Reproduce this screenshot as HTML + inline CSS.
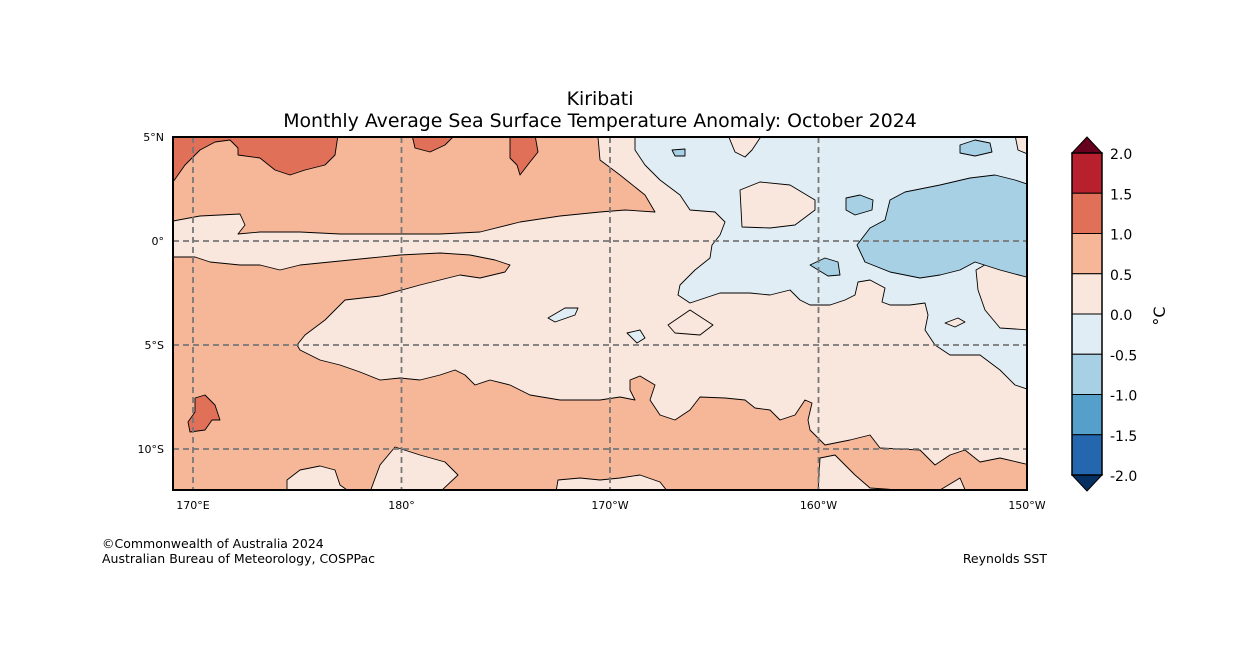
<!DOCTYPE html>
<html><head><meta charset="utf-8">
<style>
body{margin:0;background:#fff;font-family:"DejaVu Sans","Liberation Sans",sans-serif;}
svg text{font-family:"DejaVu Sans","Liberation Sans",sans-serif;}
</style></head>
<body>
<svg id="chart" width="1258" height="667" viewBox="0 0 1258 667" xmlns="http://www.w3.org/2000/svg">
<text x="600" y="105" text-anchor="middle" font-size="18.9">Kiribati</text>
<text x="600" y="127" text-anchor="middle" font-size="18.9">Monthly Average Sea Surface Temperature Anomaly: October 2024</text>
<defs><clipPath id="mapclip"><rect x="173" y="137" width="854" height="353"/></clipPath></defs>
<g id="map" clip-path="url(#mapclip)"></g>
<g id="grid"></g>
<rect x="173" y="137" width="854" height="353" fill="none" stroke="#000" stroke-width="2"/>
<g id="axes"></g>
<g id="cbar"></g>
<text transform="translate(1165,316) rotate(-90)" text-anchor="middle" font-size="16">°C</text>
<text x="102" y="548" font-size="12.5">©Commonwealth of Australia 2024</text>
<text x="102" y="563" font-size="12.5">Australian Bureau of Meteorology, COSPPac</text>
<text x="1047" y="563" text-anchor="end" font-size="12.5">Reynolds SST</text>
</svg>
<script>
const cbLevels=[2.0,1.5,1.0,0.5,0.0,-0.5,-1.0,-1.5,-2.0];
const cbColors=["#b8202e","#e07058","#f6b799","#f9e6dc","#e1edf4","#a7d0e4","#559fcb","#2467ae"];
const lonTicks=[170,180,190,200,210];
const lonLabels=["170°E","180°","170°W","160°W","150°W"];
const latTicks=[5,0,-5,-10];
const latLabels=["5°N","0°","5°S","10°S"];
const NS="http://www.w3.org/2000/svg";
const lonX=l=>193+(l-170)*20.85;
const latY=l=>241-l*20.8;
function mk(t,a,p){const e=document.createElementNS(NS,t);for(const k in a)e.setAttribute(k,a[k]);p.appendChild(e);return e;}
const regions=[
 ["pale-region","#f9e6dc","173,221 200,216 240,214 245,225 238,234 260,232 300,232 340,234 400,234 440,234 480,232 520,222 560,216 600,212 625,210 655,212 645,195 620,175 600,160 598,137 1030,137 1030,465 1000,458 980,462 965,450 950,455 935,465 920,450 880,448 870,435 850,440 825,445 810,430 808,420 812,403 805,400 795,415 780,420 770,410 755,408 745,400 725,398 700,397 690,410 675,420 660,415 650,400 655,385 640,376 630,380 630,390 635,400 620,397 600,400 560,400 530,395 510,385 490,380 475,385 465,375 455,370 440,375 420,380 400,378 380,380 360,372 340,365 320,360 300,350 297,345 305,335 325,320 345,300 380,296 420,285 460,275 480,278 505,272 510,265 495,260 470,255 440,253 400,255 370,258 330,262 300,265 280,270 260,265 240,265 210,262 195,257 170,257"],
 ["pale-blob-1","#f9e6dc","287,492 287,480 300,470 320,466 335,470 340,485 350,492"],
 ["pale-blob-2","#f9e6dc","370,492 380,465 395,447 420,455 445,462 458,475 440,492"],
 ["pale-blob-3","#f9e6dc","556,492 558,480 580,478 600,480 620,478 640,475 660,482 668,492"],
 ["pale-blob-4","#f9e6dc","818,492 820,458 835,455 855,475 870,488 900,490 940,490 960,478 966,492"],
 ["blue-region","#e1edf4","635,135 635,150 645,165 660,180 680,195 690,210 715,212 725,222 720,235 712,245 710,258 695,270 680,285 678,295 690,303 720,293 750,293 770,295 790,290 800,300 810,305 830,305 845,300 855,295 858,282 870,280 885,288 882,302 890,305 910,305 925,303 928,315 925,330 935,345 950,355 980,355 1000,370 1015,385 1030,390 1030,330 1000,328 985,310 978,290 976,270 990,262 1010,263 1030,270 1030,155 1018,150 1015,135"],
 ["pale-notch","#f9e6dc","728,135 735,152 745,157 752,150 762,135"],
 ["pale-island-1","#f9e6dc","740,190 760,182 790,185 815,200 815,210 795,225 770,228 742,227"],
 ["pale-island-2","#f9e6dc","668,325 690,310 713,325 700,335 675,333"],
 ["pale-island-3","#f9e6dc","945,323 958,318 965,322 955,327"],
 ["blue-island-1","#e1edf4","548,318 565,308 578,308 575,315 555,322"],
 ["blue-island-2","#e1edf4","627,333 640,330 645,338 637,343"],
 ["cool-region","#a7d0e4","890,200 905,192 940,185 970,178 995,175 1015,180 1030,185 1030,278 1000,270 975,262 960,270 940,275 920,278 890,272 865,262 857,245 870,228 885,220"],
 ["cool-island-1","#a7d0e4","846,198 860,195 873,200 872,210 855,215 846,210"],
 ["cool-island-2","#a7d0e4","810,265 825,258 838,262 840,275 828,276"],
 ["cool-island-3","#a7d0e4","960,145 975,140 990,143 992,152 975,156 960,153"],
 ["cool-island-4","#a7d0e4","672,150 685,149 685,156 675,156"],
 ["warm-region-1","#e07058","170,135 173,182 185,165 200,150 215,142 230,140 238,148 238,155 260,158 275,170 290,175 305,170 325,165 335,155 338,135"],
 ["warm-region-2","#e07058","412,135 415,148 430,152 445,145 455,135"],
 ["warm-region-3","#e07058","510,135 510,158 517,165 520,175 530,162 538,152 535,135"],
 ["warm-region-4","#e07058","195,398 205,395 215,405 220,420 212,420 205,430 190,432 188,422 195,412"]
];
const map=document.getElementById('map');
const bg=mk('rect',{x:173,y:137,width:854,height:353,fill:"#f6b799"},map);


regions.forEach(r=>{
 const p=mk('polygon',{points:r[2],fill:r[1],stroke:"#000","stroke-width":0.9,"stroke-linejoin":"round"},map);
 
 
});
const grid=document.getElementById('grid'),axes=document.getElementById('axes');
lonTicks.forEach((l,i)=>{
 const x=lonX(l);
 const ln=mk('line',{x1:x,y1:137,x2:x,y2:490,stroke:"#777","stroke-width":1.8,"stroke-dasharray":"6,4"},grid);
 
 
 const t=mk('text',{x:x,y:509,"text-anchor":"middle","font-size":11},axes);
 t.textContent=lonLabels[i];
 
 
});
latTicks.forEach((l,i)=>{
 const y=latY(l);
 if(l!==5){const ln=mk('line',{x1:173,y1:y,x2:1027,y2:y,stroke:"#777","stroke-width":1.8,"stroke-dasharray":"6,4"},grid);
 
 }
 const t=mk('text',{x:164,y:y+4,"text-anchor":"end","font-size":11},axes);
 t.textContent=latLabels[i];
 
 
});
const cb=document.getElementById('cbar');
const cbTop=153,cbBot=475,cx=1072,cw=30,bh=(cbBot-cbTop)/cbColors.length;
cbColors.forEach((c,i)=>{
 const r=mk('rect',{x:cx,y:cbTop+i*bh,width:cw,height:bh,fill:c,stroke:"#000","stroke-width":1},cb);
 
 
});
const tt=mk('polygon',{points:`${cx},${cbTop} ${cx+cw/2},137 ${cx+cw},${cbTop}`,fill:"#67001f",stroke:"#000","stroke-width":1},cb);


const bt=mk('polygon',{points:`${cx},${cbBot} ${cx+cw/2},491 ${cx+cw},${cbBot}`,fill:"#053061",stroke:"#000","stroke-width":1},cb);


const fr=mk('rect',{x:cx,y:cbTop,width:cw,height:cbBot-cbTop,fill:"none",stroke:"#000","stroke-width":1.5},cb);


cbLevels.forEach((v,i)=>{
 const t=mk('text',{x:1110,y:cbTop+i*bh+6,"font-size":14},cb);
 t.textContent=v.toFixed(1);
 
 
});
</script>
</body></html>
